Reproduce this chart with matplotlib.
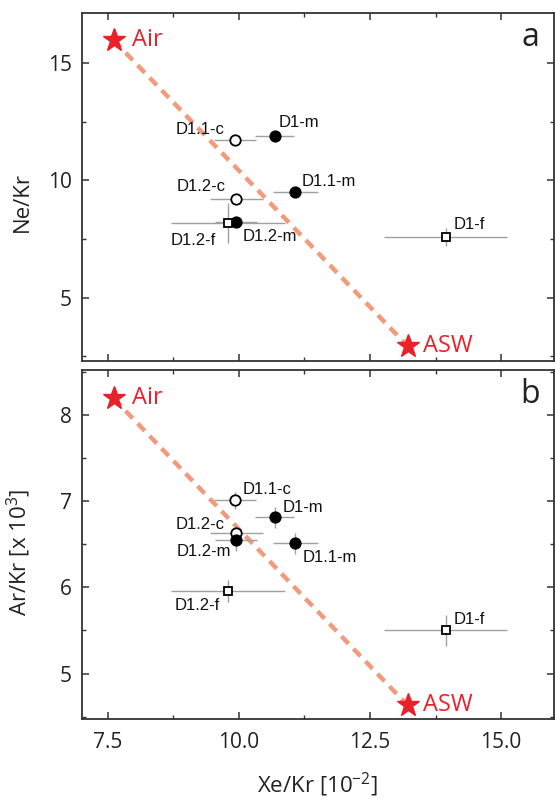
import matplotlib
matplotlib.use("Agg")
import matplotlib.pyplot as plt
from matplotlib.ticker import MultipleLocator, FormatStrFormatter

plt.rcParams['font.family'] = ['Open Sans', 'DejaVu Sans']
plt.rcParams['mathtext.fontset'] = 'custom'
plt.rcParams['mathtext.rm'] = 'Open Sans'
plt.rcParams['mathtext.it'] = 'Open Sans'

# samples
samples = ['D1.1-c', 'D1-m', 'D1.2-c', 'D1.1-m', 'D1.2-m', 'D1.2-f', 'D1-f']
xe_kr = [9.92, 10.68, 9.95, 11.07, 9.95, 9.79, 13.94]
xe_kr_err = [0.40, 0.37, 0.50, 0.43, 0.40, 1.09, 1.17]
ne_kr = [11.72, 11.89, 9.19, 9.51, 8.24, 8.17, 7.59]
ne_kr_err = [0.15, 0.15, 0.15, 0.15, 0.2, 0.85, 0.39]
ar_kr = [7.01, 6.81, 6.63, 6.51, 6.55, 5.96, 5.50]
ar_kr_err = [0.10, 0.12, 0.08, 0.12, 0.13, 0.13, 0.18]

# end members (Air, ASW)
end_names = ['Air', 'ASW']
end_xe_kr = [7.61, 13.22]
end_ne_kr = [15.97, 2.93]
end_ar_kr = [8.19, 4.63]

RED = '#e8212b'
SALMON = '#f29a7d'
GREY = '#a0a0a0'


def marker_style(name):
    if name.endswith('-c'):
        return dict(marker='o', mfc='white', mec='black', ms=7.5, mew=1.3)
    if name.endswith('-m'):
        return dict(marker='o', mfc='black', mec='black', ms=7.5, mew=1.3)
    return dict(marker='s', mfc='white', mec='black', ms=6, mew=1.3)


# label offsets in pixels (ha, dx, dy)
offs_a = {'D1.1-c': ('right', -10, 11), 'D1-m': ('left', 4, 14),
          'D1.2-c': ('right', -11, 13), 'D1.1-m': ('left', 7, 10),
          'D1.2-m': ('left', 6, -15), 'D1.2-f': ('right', -12, -17),
          'D1-f': ('left', 8, 12)}
offs_b = {'D1.1-c': ('left', 8, 11), 'D1-m': ('left', 8, 10),
          'D1.2-c': ('right', -12, 8), 'D1.2-m': ('right', -5, -12),
          'D1.1-m': ('left', 8, -14), 'D1.2-f': ('right', -8, -15),
          'D1-f': ('left', 8, 11)}

fig = plt.figure(figsize=(5.55, 8), dpi=100)
ax_a = fig.add_axes([0.1472, 0.5488, 0.8501, 0.4354])
ax_b = fig.add_axes([0.1472, 0.1009, 0.8501, 0.4366])


def draw_panel(ax, yvals, yerr, end_y, offs, letter):
    # mixing line
    ax.plot(end_xe_kr, end_y, color=SALMON, lw=3.2, dashes=(2.3, 1.6),
            solid_capstyle='butt', zorder=1)
    for i, name in enumerate(samples):
        ax.errorbar(xe_kr[i], yvals[i], xerr=xe_kr_err[i], yerr=yerr[i],
                    ecolor=GREY, elinewidth=1.0, capsize=0, ls='none',
                    zorder=3, **marker_style(name))
        ha, dx, dy = offs[name]
        ax.annotate(name, (xe_kr[i], yvals[i]), xytext=(dx, dy),
                    textcoords='offset pixels', ha=ha, va='center',
                    fontsize=12, family='Liberation Sans', color='#111111',
                    zorder=4)
    for i, nm in enumerate(end_names):
        ax.plot(end_xe_kr[i], end_y[i], marker='*', ms=17, color=RED,
                mec=RED, ls='none', zorder=5)
        ax.annotate(nm, (end_xe_kr[i], end_y[i]),
                    xytext=(18 if nm == 'Air' else 15, 0),
                    textcoords='offset pixels', ha='left', va='center',
                    fontsize=17, color=RED)
    ax.text(0.971, 0.93, letter, transform=ax.transAxes, ha='right',
            va='center', fontsize=23, color='#222222')
    ax.set_xlim(7.0, 16.0)
    ax.xaxis.set_major_locator(MultipleLocator(2.5))
    ax.xaxis.set_minor_locator(MultipleLocator(1.25))
    ax.tick_params(which='both', direction='in', top=True, right=True,
                   colors='#333333', labelcolor='#222222', labelsize=15,
                   pad=7)
    ax.tick_params(axis='x', pad=9)
    ax.tick_params(which='major', length=5, width=1.1)
    ax.tick_params(which='minor', length=3, width=1.0)
    for s in ax.spines.values():
        s.set_color('#333333')
        s.set_linewidth(1.3)


draw_panel(ax_a, ne_kr, ne_kr_err, end_ne_kr, offs_a, 'a')
ax_a.set_ylim(2.3, 17.15)
ax_a.yaxis.set_major_locator(MultipleLocator(5))
ax_a.yaxis.set_minor_locator(MultipleLocator(2.5))
ax_a.tick_params(axis='x', labelbottom=False)
ax_a.set_ylabel('Ne/Kr', fontsize=16, color='#222222')
ax_a.yaxis.set_label_coords(-0.103, 0.455)

draw_panel(ax_b, ar_kr, ar_kr_err, end_ar_kr, offs_b, 'b')
ax_b.set_ylim(4.47, 8.52)
ax_b.yaxis.set_major_locator(MultipleLocator(1))
ax_b.yaxis.set_minor_locator(MultipleLocator(0.5))
ax_b.xaxis.set_major_formatter(FormatStrFormatter('%.1f'))
ax_b.set_ylabel('Ar/Kr [x 10$^3$]', fontsize=16, color='#222222')
ax_b.yaxis.set_label_coords(-0.103, 0.4775)
ax_b.set_xlabel('Xe/Kr [10$^{-2}$]', fontsize=16, color='#222222',
                labelpad=13)

fig.savefig('out.png', dpi=100)
